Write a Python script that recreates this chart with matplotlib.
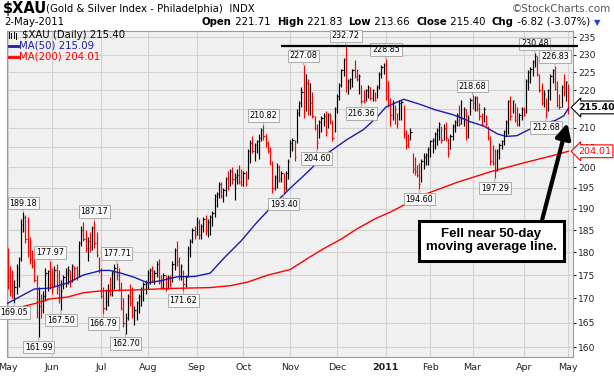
import matplotlib
matplotlib.use("Agg")
import matplotlib.pyplot as plt  # noqa: E402
import matplotlib.ticker as mticker  # noqa: E402
import numpy as np  # noqa: E402
import pandas as pd  # noqa: E402
from matplotlib.lines import Line2D  # noqa: E402

W, H = 614, 379

# trading calendar, May 3 2010 .. May 2 2011
holidays = ["2010-05-31", "2010-07-05", "2010-09-06", "2010-11-25", "2010-12-24",
            "2011-01-17", "2011-02-21", "2011-04-22"]

# daily bars (index = trading day)
highs = [
    181.0, 177.0, 176.0, 174.0, 177.5, 179.0, 187.5, 189.18, 188.5, 188.0,
    183.5, 180.5, 180.5, 175.0, 172.5, 171.0, 171.5, 176.5, 176.0, 177.97,
    176.5, 177.0, 177.5, 176.0, 174.0, 175.0, 176.5, 177.0, 176.0, 177.5,
    177.0, 177.0, 182.5, 186.0, 187.0, 185.0, 183.5, 184.5, 186.0, 187.17,
    184.5, 179.0, 176.5, 172.5, 172.0, 173.0, 174.5, 176.0, 177.5, 177.71,
    176.5, 173.5, 170.0, 167.0, 171.0, 173.0, 172.5, 168.5, 169.5, 171.0,
    172.5, 173.5, 174.0, 176.0, 176.5, 177.0, 176.0, 178.0, 178.5, 175.0,
    175.5, 175.0, 175.0, 175.0, 178.0, 181.0, 182.5, 179.0, 177.5, 176.0,
    175.0, 181.5, 183.0, 185.5, 186.0, 188.0, 187.5, 186.5, 188.0, 188.5,
    187.5, 188.5, 189.5, 193.5, 194.0, 196.5, 196.5, 195.0, 197.5, 199.0,
    199.5, 200.0, 198.5, 199.5, 200.5, 199.5, 199.0, 199.0, 204.5, 207.0,
    207.8, 206.0, 207.0, 208.5, 210.0, 210.82, 208.5, 206.5, 205.0, 201.5,
    198.0, 201.0, 200.5, 199.0, 198.5, 199.0, 202.0, 207.0, 207.5, 207.0,
    215.0, 217.0, 221.0, 227.08, 224.5, 223.0, 222.0, 219.5, 213.0, 211.0,
    212.0, 213.0, 214.0, 214.5, 214.0, 214.0, 212.0, 215.5, 219.0, 222.0,
    226.0, 229.0, 232.72, 223.0, 223.5, 226.0, 228.5, 226.0, 224.5, 221.5,
    220.0, 220.5, 221.5, 221.0, 220.5, 219.5, 221.5, 225.0, 227.0, 227.5,
    228.85, 222.5, 218.0, 217.5, 216.0, 214.0, 217.5, 217.5, 216.0, 209.5,
    208.5, 210.0, 203.5, 202.5, 200.5, 201.0, 202.0, 203.5, 203.5, 205.0,
    207.0, 207.5, 209.0, 210.0, 211.5, 210.5, 211.0, 211.5, 207.5, 208.5,
    211.0, 212.0, 214.0, 216.0, 217.5, 215.5, 215.0, 213.5, 218.0, 218.68,
    218.5, 218.5, 216.5, 214.0, 215.5, 213.5, 210.5, 208.0, 205.5, 204.5,
    204.5, 206.0, 207.0, 209.5, 212.0, 217.5, 218.5, 217.5, 216.5, 215.5,
    214.0, 215.5, 215.5, 223.0, 225.5, 226.5, 228.5, 230.48, 229.5, 224.5,
    222.0, 220.0, 218.0, 220.5, 224.5, 226.0, 226.83, 222.5, 219.0, 221.5,
    224.5, 222.5, 221.83,
]
lows = [
    172.0, 170.5, 170.0, 169.05, 171.0, 172.5, 178.0, 184.5, 182.0, 179.0,
    177.5, 176.5, 173.5, 166.0, 161.99, 166.0, 167.0, 169.5, 171.5, 172.0,
    171.0, 172.5, 171.0, 169.0, 167.50, 172.0, 172.5, 173.0, 172.5, 173.5,
    174.0, 174.0, 174.5, 181.5, 182.5, 180.0, 178.0, 180.0, 180.5, 181.0,
    179.0, 175.5, 170.0, 166.79, 167.5, 168.5, 170.5, 170.5, 172.0, 174.0,
    171.5, 167.5, 164.0, 162.70, 165.5, 168.5, 166.0, 164.5, 165.5, 167.0,
    168.5, 169.5, 171.0, 172.0, 173.0, 173.5, 173.0, 174.5, 173.0, 172.0,
    172.0, 171.5, 172.0, 172.5, 173.5, 176.0, 177.0, 174.0, 174.0, 171.62,
    172.5, 174.5, 179.0, 182.0, 183.0, 184.0, 183.0, 183.0, 184.5, 184.0,
    183.5, 184.0, 186.0, 188.0, 190.5, 192.5, 192.5, 191.5, 193.0, 194.5,
    195.5, 196.0, 192.0, 196.0, 196.0, 195.5, 195.5, 195.5, 197.0, 201.0,
    203.5, 201.5, 203.5, 202.0, 206.5, 207.0, 205.0, 203.5, 200.5, 193.8,
    194.5, 195.0, 196.5, 196.5, 193.40, 194.5, 197.0, 202.5, 204.0, 201.5,
    206.0, 213.0, 215.5, 212.5, 214.5, 213.5, 213.5, 212.5, 209.5, 204.60,
    207.5, 209.0, 210.5, 208.0, 210.0, 211.0, 206.5, 209.0, 214.0, 217.5,
    221.0, 224.0, 219.5, 219.0, 220.5, 221.0, 223.5, 222.5, 219.0, 216.36,
    216.5, 217.0, 218.0, 217.5, 217.0, 217.0, 218.0, 220.5, 223.5, 224.5,
    217.5, 215.5, 210.5, 212.0, 211.0, 210.0, 212.0, 212.0, 207.5, 204.5,
    205.0, 207.0, 198.5, 198.0, 197.5, 194.60, 196.5, 199.5, 200.5, 200.5,
    202.5, 203.5, 204.5, 205.5, 207.0, 206.0, 207.0, 206.5, 202.5, 204.5,
    207.0, 209.0, 210.5, 210.5, 211.0, 210.5, 207.0, 207.5, 213.5, 215.0,
    214.5, 214.5, 212.0, 210.5, 211.5, 210.5, 207.0, 200.5, 200.5, 197.29,
    199.0, 202.0, 204.5, 205.5, 208.0, 208.5, 212.0, 214.0, 211.5, 210.5,
    210.5, 212.0, 213.0, 214.0, 220.0, 222.0, 224.0, 226.5, 224.0, 219.5,
    216.0, 215.5, 212.68, 214.5, 217.5, 222.0, 220.0, 215.5, 215.0, 215.5,
    218.5, 217.0, 213.66,
]
closes = [
    174.5, 171.5, 171.0, 172.5, 176.5, 178.5, 186.5, 188.0, 183.0, 180.0,
    178.5, 177.0, 174.0, 167.0, 168.5, 167.5, 170.5, 175.5, 175.8, 173.0,
    172.0, 176.0, 172.5, 170.0, 171.5, 174.5, 175.5, 176.0, 173.5, 177.0,
    176.5, 174.5, 182.0, 185.0, 183.0, 181.0, 182.5, 181.5, 185.5, 182.0,
    179.5, 176.0, 170.5, 168.0, 169.5, 171.5, 171.0, 175.5, 176.5, 175.0,
    172.0, 168.0, 165.0, 166.0, 170.5, 169.0, 166.5, 167.5, 169.0, 170.5,
    172.0, 173.0, 173.5, 175.5, 176.0, 174.0, 175.5, 177.5, 173.5, 172.5,
    175.0, 172.0, 174.5, 173.0, 177.5, 180.5, 178.0, 175.0, 177.0, 173.0,
    174.5, 181.0, 182.5, 185.0, 184.0, 187.0, 184.0, 186.0, 187.5, 185.0,
    187.0, 188.0, 189.0, 193.0, 193.5, 196.0, 193.0, 194.5, 197.0, 195.0,
    199.0, 197.0, 197.5, 198.0, 196.5, 196.0, 198.5, 196.0, 204.0, 206.0,
    204.0, 205.5, 206.5, 207.5, 209.5, 208.0, 206.0, 204.0, 201.0, 195.0,
    197.5, 200.0, 197.0, 198.5, 195.0, 198.5, 201.5, 206.0, 207.0, 202.5,
    214.0, 216.5, 219.5, 214.0, 222.0, 215.0, 216.5, 213.0, 210.0, 206.0,
    211.5, 212.5, 213.0, 209.0, 213.5, 213.0, 207.5, 215.0, 218.5, 221.5,
    225.5, 228.5, 221.0, 222.5, 223.0, 225.5, 224.0, 223.0, 224.0, 217.0,
    216.8, 220.0, 221.0, 218.0, 220.0, 217.5, 221.0, 224.5, 226.5, 227.0,
    218.5, 216.0, 213.5, 216.5, 215.0, 211.0, 216.5, 216.8, 208.5, 205.5,
    205.2, 209.0, 199.5, 199.0, 198.0, 196.0, 201.5, 202.5, 203.0, 204.5,
    206.5, 207.0, 208.5, 209.5, 211.0, 207.0, 210.0, 207.5, 203.5, 208.0,
    210.5, 211.5, 213.5, 211.0, 212.5, 215.0, 208.0, 212.5, 217.5, 216.5,
    218.0, 215.0, 213.0, 211.0, 215.0, 211.0, 207.5, 201.5, 201.0, 199.0,
    204.0, 205.5, 206.5, 209.0, 211.5, 217.0, 213.0, 217.0, 212.0, 211.0,
    213.5, 215.0, 213.5, 222.5, 225.0, 226.0, 228.0, 229.5, 224.5, 220.0,
    216.5, 219.0, 215.0, 220.0, 224.0, 225.5, 220.5, 216.0, 215.5, 221.0,
    219.5, 222.22, 215.40,
]

# moving averages, sampled off the chart at these trading-day indices
ma50_at = [0, 6, 12, 19, 27, 34, 42, 46, 51, 57, 63, 69, 76, 84, 91, 97, 105,
           112, 120, 127, 135, 142, 152, 160, 166, 170, 178, 185, 192, 200, 204,
           208, 214, 220, 224, 229, 233, 238, 242, 246, 250, 252]
ma50 = [169.0, 170.5, 172.0, 172.2, 173.3, 175.0, 176.0, 176.0, 175.4, 174.5,
        173.3, 173.8, 174.6, 174.7, 175.4, 178.6, 182.6, 186.8, 191.2, 194.9,
        198.9, 202.8, 206.8, 209.6, 212.8, 215.5, 217.6, 216.3, 214.8, 213.5,
        212.6, 211.6, 210.5, 208.5, 207.8, 208.0, 209.2, 210.5, 211.4, 211.9,
        213.2, 215.09]
ma200_at = [0, 12, 19, 27, 34, 42, 57, 72, 91, 100, 108, 117, 127, 135, 142,
            150, 157, 165, 172, 187, 202, 217, 232, 247, 252]
ma200 = [167.5, 168.9, 169.9, 170.3, 171.2, 171.6, 171.8, 172.1, 172.3, 172.7,
         173.5, 175.0, 176.2, 178.7, 180.8, 183.0, 185.3, 187.6, 189.2, 193.3,
         196.3, 198.9, 201.1, 203.2, 204.01]

# bars that carry a price tag
peak_bars = [7, 19, 39, 49, 115, 133, 152, 170, 209, 237, 246]
trough_bars = [3, 14, 24, 43, 53, 79, 124, 139, 159, 185, 219, 242]

resistance = 232.4
yticks = list(range(160, 240, 5))

RED = "#ff0000"
NAVY = "#1c1ca8"


def fx(px):
    return px / W


def fy(py):
    return 1 - py / H


def main():
    dates = pd.bdate_range("2010-05-03", "2011-05-02")
    dates = dates[~dates.isin(pd.to_datetime(holidays))]
    n = len(dates)
    x = np.arange(n)
    hi, lo, cl = np.array(highs), np.array(lows), np.array(closes)
    up = np.r_[False, cl[1:] > cl[:-1]]
    cols = np.where(up, "#000000", RED)

    plt.rcParams["font.family"] = ["DejaVu Sans"]
    fig = plt.figure(figsize=(W / 100, H / 100), dpi=100)
    ax = fig.add_axes([fx(7), 1 - 357 / H, (572.5 - 7) / W, (357 - 31) / H])
    ax.set_facecolor("#f0f0f0")

    ax.set_yscale("log")
    ax.set_ylim(158.1, 236.8)
    ax.set_xlim(-0.3, 253.9)

    # month grid / labels
    starts = [0] + [i for i in range(1, n) if dates[i].month != dates[i - 1].month]
    labels = ["2011" if dates[i].month == 1 else dates[i].strftime("%b") for i in starts]
    ax.set_xticks(starts)
    ax.set_xticklabels(labels, fontsize=6.8)
    for t, s in zip(ax.get_xticklabels(), labels):
        if s == "2011":
            t.set_fontweight("bold")
    ax.yaxis.set_major_locator(mticker.FixedLocator(yticks))
    ax.yaxis.set_major_formatter(mticker.FormatStrFormatter("%d"))
    ax.yaxis.set_minor_locator(mticker.NullLocator())
    ax.yaxis.tick_right()
    ax.tick_params(axis="y", labelsize=6.6, length=2.5, pad=1.5, colors="#222222")
    ax.tick_params(axis="x", length=0, pad=4, colors="#222222")
    ax.grid(True, color="#d2d2d2", lw=0.8)
    ax.set_axisbelow(True)
    for sp in ax.spines.values():
        sp.set_color("#9a9a9a")
        sp.set_linewidth(0.8)

    # high-low bars with close tick
    ax.vlines(x, lo, hi, colors=cols, lw=0.85, zorder=3)
    ax.hlines(cl, x, x + 0.55, colors=cols, lw=0.85, zorder=3)

    ax.plot(ma50_at, ma50, color=NAVY, lw=1.0, zorder=4)
    ax.plot(ma200_at, ma200, color=RED, lw=1.0, zorder=4)

    # price tags
    tag = dict(fontsize=5.8, ha="center", va="center", textcoords="offset points",
               bbox=dict(boxstyle="square,pad=0.22", fc="#f8f8f8", ec="#a0a0a0", lw=0.6),
               arrowprops=dict(arrowstyle="-", color="#a0a0a0", lw=0.6,
                               shrinkA=0, shrinkB=0), zorder=6)
    for i in peak_bars:
        ax.annotate(f"{hi[i]:.2f}", xy=(i, hi[i]), xytext=(0, 6.5), **tag)
    for i in trough_bars:
        ax.annotate(f"{lo[i]:.2f}", xy=(i, lo[i]), xytext=(0, -7.0), **tag)

    # resistance line
    ax.plot([123, 256.3], [resistance, resistance], color="black", lw=1.6,
            zorder=7, clip_on=False, solid_capstyle="butt")

    # right-side last value tags
    ax.annotate(f"{cl[-1]:.2f}", xy=(1, cl[-1]), xycoords=("axes fraction", "data"),
                xytext=(4, 0), textcoords="offset points", ha="left", va="center",
                fontsize=6.8, fontweight="bold", color="black", zorder=8,
                bbox=dict(boxstyle="larrow,pad=0.2", fc="white", ec="black", lw=0.8),
                annotation_clip=False)
    ax.annotate(f"{ma200[-1]:.2f}", xy=(1, ma200[-1]), xycoords=("axes fraction", "data"),
                xytext=(4, 0), textcoords="offset points", ha="left", va="center",
                fontsize=6.8, color=RED, zorder=8,
                bbox=dict(boxstyle="larrow,pad=0.2", fc="white", ec=RED, lw=0.8),
                annotation_clip=False)

    # callout
    ax.annotate("", xy=(251.6, 211.3), xytext=(240.3, 187.5),
                arrowprops=dict(arrowstyle="-|>,head_length=0.9,head_width=0.45",
                                color="black", lw=3.0, shrinkA=0, shrinkB=0), zorder=9)
    ax.text(217.5, 182.6, "Fell near 50-day\nmoving average line.", ha="center",
            va="center", fontsize=9.5, fontweight="bold", linespacing=1.15,
            family=["Liberation Sans", "DejaVu Sans"], zorder=10,
            bbox=dict(boxstyle="square,pad=0.55", fc="white", ec="black", lw=2.2))

    # in-chart legend
    fig.text(fx(22), fy(34.5), "$XAU (Daily) 215.40", fontsize=7.3, va="center",
             color="black")
    for dx, y0, y1 in [(9, 31.5, 38), (11, 33, 38), (14, 32, 37.5), (16, 33, 38.5)]:
        fig.add_artist(Line2D([fx(dx), fx(dx)], [fy(y0), fy(y1)], color="black", lw=0.7))
    fig.add_artist(Line2D([fx(9), fx(18)], [fy(45.5), fy(45.5)], color=NAVY, lw=2))
    fig.text(fx(19), fy(45.5), f"MA(50) {ma50[-1]:.2f}", fontsize=7.3, va="center", color=NAVY)
    fig.add_artist(Line2D([fx(9), fx(18)], [fy(56.5), fy(56.5)], color=RED, lw=2))
    fig.text(fx(19), fy(56.5), f"MA(200) {ma200[-1]:.2f}", fontsize=7.3, va="center", color=RED)

    # header
    fig.text(fx(3), fy(8), "$XAU", fontsize=10.5, fontweight="bold", va="center")
    fig.text(fx(46), fy(8.5), "(Gold & Silver Index - Philadelphia)  INDX", fontsize=7.3,
             va="center")
    fig.text(fx(611), fy(8.5), "\u00a9StockCharts.com", fontsize=7.5, va="center",
             ha="right", color="#555555")
    fig.text(fx(4), fy(22), dates[-1].strftime("%-d-%b-%Y"), fontsize=7.3, va="center")

    chg = cl[-1] - cl[-2]
    pieces = [("Open", "bold"), (" 221.71  ", "normal"), ("High", "bold"),
              (f" {hi[-1]:.2f}  ", "normal"), ("Low", "bold"), (f" {lo[-1]:.2f}  ", "normal"),
              ("Close", "bold"), (f" {cl[-1]:.2f}  ", "normal"), ("Chg", "bold"),
              (f" {chg:.2f} ({chg / cl[-2] * 100:.2f}%)", "normal")]
    r = fig.canvas.get_renderer()
    texts = [fig.text(0, fy(22), s, fontsize=7.3, fontweight=w, va="center") for s, w in pieces]
    widths = [t.get_window_extent(r).width for t in texts]
    cx = 590 - sum(widths)
    for t, wd in zip(texts, widths):
        t.set_x(fx(cx))
        cx += wd
    fig.text(fx(594), fy(22.5), "\u25bc", fontsize=6, color="#1f3fcf", va="center")

    fig.savefig("out.png", dpi=100)


if __name__ == "__main__":
    main()
